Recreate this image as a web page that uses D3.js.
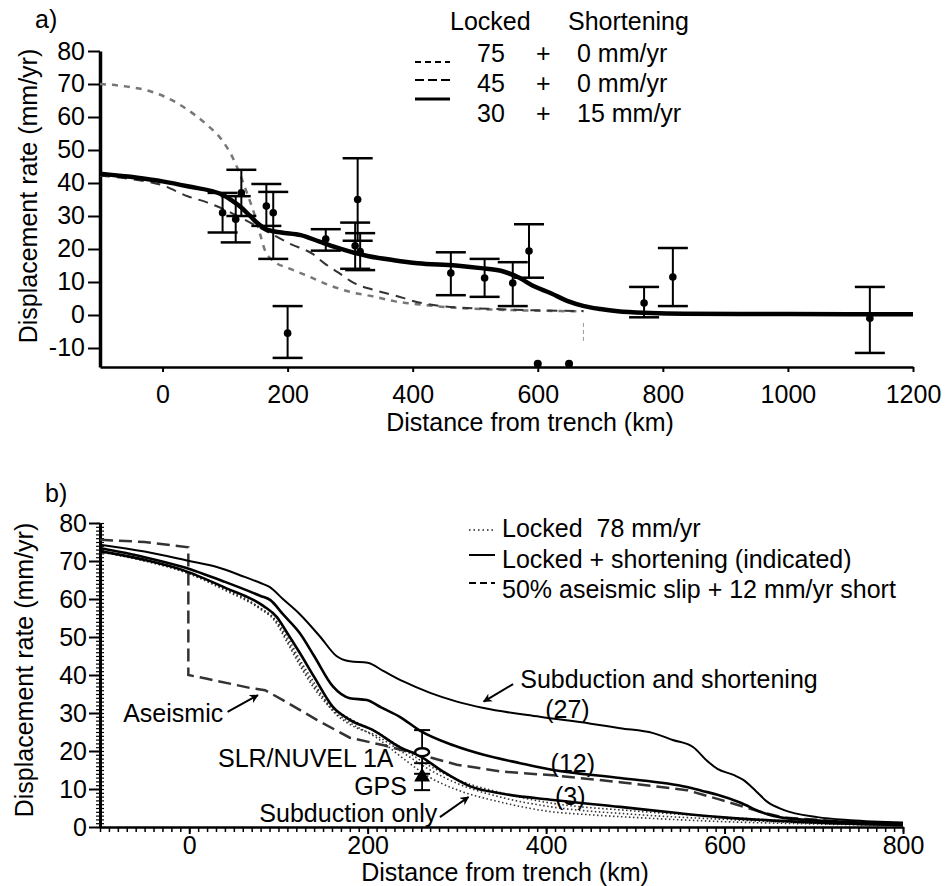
<!DOCTYPE html>
<html>
<head>
<meta charset="utf-8">
<script src="https://cdn.jsdelivr.net/npm/d3@7"></script>
<style>
  body { margin: 0; background: #fff; }
  svg text { font-family: "Liberation Sans", Arial, Helvetica, sans-serif; font-size: 25px; fill: #000; white-space: pre; }
  .axis path, .axis line { stroke: #000; }
  .axis text { font-family: "Liberation Sans", Arial, Helvetica, sans-serif; font-size: 25px; }
</style>
</head>
<body>
<script>
// ---------- panel a data ----------
var aXTicks = [0, 200, 400, 600, 800, 1000, 1200];
var aYTicks = [-10, 0, 10, 20, 30, 40, 50, 60, 70, 80];

// model curves [km, mm/yr]
var locked75 = [[-100,70],[-60,69.3],[-20,67.8],[10,65.6],[40,62.2],[70,57.8],[95,53],[110,48.5],[122,43.5],[135,37],[147,30.5],[156,24.5],[164,19.5],[180,16],[200,14.3],[230,12],[260,9.5],[300,7],[340,5.5],[370,4.2],[420,3],[460,2.3],[520,1.7],[600,1.3],[673,1.1]];
var locked45 = [[-100,42.2],[-50,41.2],[0,39.3],[40,36],[70,34.2],[95,32.3],[130,29],[170,25],[205,21.5],[240,18.5],[260,15.5],[280,13],[305,9.8],[340,7.5],[370,6],[410,3.8],[450,2.6],[520,1.9],[600,1.4],[673,1.2]];
var locked30short15 = [[-100,42.8],[-40,41.6],[0,40.5],[40,39],[95,36.5],[110,34.8],[125,32.7],[140,30],[152,27.8],[168,25.8],[190,25],[221,24.2],[250,22.3],[274,20.7],[300,19.2],[328,17.9],[370,16.6],[408,15.7],[469,15],[509,14.2],[541,13.4],[568,11.5],[594,8.7],[621,6.6],[648,4.2],[674,2.7],[700,1.8],[728,1.1],[780,0.6],[834,0.4],[1000,0.3],[1200,0.2]];

// observations with error bars
var obsKm   = [96, 117, 126, 166, 177, 200, 261, 308, 312, 316, 461, 515, 560, 586, 770, 816, 1131];
var obsRate = [31, 29, 37, 33, 31, -5.5, 23, 21, 35, 19.2, 12.7, 11.2, 9.7, 19.4, 3.6, 11.5, -1];
var obsLow  = [25, 22, 30, 27, 17, -13, 19.5, 14, 22.5, 13.6, 6, 5.5, 2.7, 11.3, -0.7, 2.7, -11.5];
var obsHigh = [37, 36, 44, 39.7, 37.3, 2.7, 26, 28, 47.5, 24.8, 19, 17, 16, 27.5, 8.5, 20.3, 8.5];

// off-scale points sitting on the axis
var offKm = [600, 650];
var offRate = [-14.8, -14.8];

// faint vertical guide
var guideKm = [673, 673];
var guideRate = [-2.4, -8.6];

// ---------- panel b data ----------
var bXTicks = [0, 200, 400, 600, 800];
var bYTicks = [0, 10, 20, 30, 40, 50, 60, 70, 80];

var short27 = [[-100,74.3],[-50,72.5],[0,70],[31,68.4],[60,66],[80,64.2],[90,63.2],[105,60],[124,56],[147,50],[165,45],[180,43.6],[200,43.2],[218,41],[240,38.3],[270,35.3],[300,33],[330,31.3],[393,29],[450,27.2],[483,26],[520,24.7],[542,22.9],[565,21],[580,17.5],[592,15.3],[610,13.7],[621,12.4],[635,9.5],[648,6.6],[666,4.5],[704,2.6],[741,1.8],[800,1.2]];
var short12 = [[-100,73.4],[-50,71],[-7,68.4],[40,64.5],[80,60.8],[91,59.7],[105,56],[124,51],[140,45],[161,37],[180,33.9],[199,33.4],[215,31.5],[236,29],[259,25.3],[296,21.5],[330,19],[371,16.8],[408,15],[483,12.9],[558,10.5],[575,9.5],[592,8.5],[618,6.4],[640,4],[666,2.4],[741,1.3],[800,0.8]];
var short3 = [[-100,72.6],[-50,70.3],[-7,67.6],[40,63],[83,58.2],[98,55.3],[110,51],[124,45.8],[140,39.5],[161,31.6],[180,28.2],[206,25.5],[236,21],[259,18.6],[285,14.5],[315,10.7],[350,8.8],[408,7.1],[483,5.3],[550,3.6],[595,2.6],[700,1.2],[800,0.5]];
var locked78 = [[-100,72.4],[-50,70],[0,66.6],[40,62.3],[80,57.3],[95,54.5],[110,48.5],[124,42.5],[140,36.5],[160,31],[180,27.5],[210,23.5],[240,18],[270,13],[300,9.8],[350,6.5],[400,4.2],[450,3.2],[500,2.5],[600,1.4],[700,0.8],[800,0.4]];
var locked78b = [[-100,72.5],[-50,70.1],[0,66.8],[40,62.6],[80,57.6],[95,55],[110,50],[124,44],[140,38],[161,30.5],[180,27],[210,24],[240,19.5],[270,15],[300,11.5],[350,7.8],[400,5.5],[500,3.3],[600,2],[700,1],[800,0.5]];
var locked78c = [[-100,72.5],[0,66.7],[80,57.5],[95,54.8],[110,49.2],[124,43.2],[140,37.2],[160,31.5],[180,28.5],[210,25],[240,20.5],[270,16],[300,12.5],[350,9],[400,6.5],[500,4.2],[600,2.6],[700,1.3],[800,0.6]];
var aseismic = [[-100,75.6],[-50,75],[-1,73.6],[-1,40],[20,39],[68,36.6],[85,36],[105,33.4],[143,28.2],[180,23.5],[218,21.5],[259,19],[300,16.4],[350,14.6],[408,13.6],[483,11.8],[558,9.7],[595,7.2],[640,4],[666,2.5],[740,1.3],[800,0.8]];

// SLR/NUVEL 1A and GPS estimates
var siteKm = [261, 261];
var siteRate = [19.7, 13.2];
var siteLow = [14, 9.7];
var siteHigh = [25.5, 16.8];

// annotations (anchor in data units)
var noteText = ["Aseismic", "SLR/NUVEL 1A", "GPS", "Subduction only", "Subduction and shortening", "(27)", "(12)", "(3)"];
var noteKm = [-74, 229, 244, 278, 371, 399, 405, 410];
var noteRate = [27.6, 15.8, 8.4, 1.3, 36.6, 28.7, 14.5, 5.8];
var noteAnchor = ["start", "end", "end", "end", "start", "start", "start", "start"];

var arrowFrom = [[43, 30.3], [281, 2.6], [363, 37.6]];
var arrowTo = [[77, 34.7], [313, 7.9], [330, 33]];

// legend texts
var legendAHead = ["Locked", "Shortening"];
var legendALocked = ["75", "45", "30"];
var legendAShort = ["0 mm/yr", "0 mm/yr", "15 mm/yr"];
var legendB = ["Locked  78 mm/yr", "Locked + shortening (indicated)", "50% aseismic slip + 12 mm/yr short"];

var svg = d3.select("body")
  .append("svg")
  .attr("width", 950)
  .attr("height", 886);

svg.append("defs").append("marker")
  .attr("id", "arrow")
  .attr("viewBox", "0 0 10 10")
  .attr("refX", 9)
  .attr("refY", 5)
  .attr("markerWidth", 9)
  .attr("markerHeight", 9)
  .attr("markerUnits", "userSpaceOnUse")
  .attr("orient", "auto")
  .append("path")
  .attr("d", "M0,0 L10,5 L0,10 L3,5 z")
  .attr("fill", "#000");

function styleAxis(g, domainWidth) {
  g.attr("font-family", null).attr("font-size", null);
  g.select(".domain").attr("stroke-width", domainWidth);
  g.selectAll(".tick line").attr("stroke-width", 2);
}

// ======================= panel a =======================
var xA = d3.scaleLinear().domain([-100, 1200]).range([100, 913]);
var yA = d3.scaleLinear().domain([-15.76, 80]).range([367, 51]);

var lineA = d3.line()
  .x(d => xA(d[0]))
  .y(d => yA(d[1]))
  .curve(d3.curveMonotoneX);

var panelA = svg.append("g");

panelA.append("text").attr("x", 35).attr("y", 28).text("a)");

panelA.append("g")
  .attr("class", "axis")
  .attr("transform", "translate(0,367)")
  .call(d3.axisBottom(xA).tickValues(aXTicks).tickSize(5).tickSizeOuter(0).tickPadding(13).tickFormat(d => String(d)))
  .call(styleAxis, 2.5);

panelA.append("g")
  .attr("class", "axis")
  .attr("transform", "translate(100,0)")
  .call(d3.axisLeft(yA).tickValues(aYTicks).tickSize(12).tickSizeOuter(0).tickPadding(3).tickFormat(d => String(d)))
  .call(styleAxis, 3.5);

panelA.append("text")
  .attr("x", 530).attr("y", 431)
  .attr("text-anchor", "middle")
  .text("Distance from trench (km)");

panelA.append("text")
  .attr("transform", "translate(37,196) rotate(-90)")
  .attr("text-anchor", "middle")
  .text("Displacement rate (mm/yr)");

// model curves
panelA.append("path")
  .attr("d", lineA(locked75))
  .attr("fill", "none")
  .attr("stroke", "#777")
  .attr("stroke-width", 2.5)
  .attr("stroke-dasharray", "6,6");

panelA.append("path")
  .attr("d", lineA(locked45))
  .attr("fill", "none")
  .attr("stroke", "#333")
  .attr("stroke-width", 2)
  .attr("stroke-dasharray", "10,7");

panelA.append("path")
  .attr("d", lineA(locked30short15))
  .attr("fill", "none")
  .attr("stroke", "#000")
  .attr("stroke-width", 4.5);

panelA.append("line")
  .attr("x1", xA(guideKm[0])).attr("x2", xA(guideKm[1]))
  .attr("y1", yA(guideRate[0])).attr("y2", yA(guideRate[1]))
  .attr("stroke", "#999")
  .attr("stroke-width", 1)
  .attr("stroke-dasharray", "4,3");

// error bars
var capA = 15;
var bars = panelA.append("g").attr("stroke", "#000");
obsKm.forEach(function(km, i) {
  var x = xA(km);
  bars.append("line")
    .attr("x1", x).attr("x2", x)
    .attr("y1", yA(obsLow[i])).attr("y2", yA(obsHigh[i]))
    .attr("stroke-width", 2);
  [obsLow[i], obsHigh[i]].forEach(function(v) {
    bars.append("line")
      .attr("x1", x - capA).attr("x2", x + capA)
      .attr("y1", yA(v)).attr("y2", yA(v))
      .attr("stroke-width", 2.5);
  });
});

panelA.append("g")
  .selectAll("circle")
  .data(obsKm)
  .join("circle")
  .attr("cx", d => xA(d))
  .attr("cy", (d, i) => yA(obsRate[i]))
  .attr("r", 3.8)
  .attr("fill", "#000");

panelA.append("g")
  .selectAll("circle")
  .data(offKm)
  .join("circle")
  .attr("cx", d => xA(d))
  .attr("cy", (d, i) => yA(offRate[i]))
  .attr("r", 4)
  .attr("fill", "#000");

// legend a
panelA.append("text").attr("x", 450).attr("y", 30).text(legendAHead[0]);
panelA.append("text").attr("x", 568).attr("y", 30).text(legendAHead[1]);
var legendAStyle = [
  { dash: "6,4", width: 2, y: 62 },
  { dash: "9,4", width: 2, y: 80 },
  { dash: null, width: 3, y: 99 }
];
legendALocked.forEach(function(t, i) {
  var baseY = 62 + i * 30;
  panelA.append("text").attr("x", 477).attr("y", baseY).text(t);
  panelA.append("text").attr("x", 536).attr("y", baseY).text("+");
  panelA.append("text").attr("x", 577).attr("y", baseY).text(legendAShort[i]);
  panelA.append("line")
    .attr("x1", 415).attr("x2", 450)
    .attr("y1", legendAStyle[i].y).attr("y2", legendAStyle[i].y)
    .attr("stroke", "#000")
    .attr("stroke-width", legendAStyle[i].width)
    .attr("stroke-dasharray", legendAStyle[i].dash);
});

// ======================= panel b =======================
var xB = d3.scaleLinear().domain([-100, 800]).range([100, 903]);
var yB = d3.scaleLinear().domain([0, 80]).range([827, 523]);

var lineB = d3.line()
  .x(d => xB(d[0]))
  .y(d => yB(d[1]))
  .curve(d3.curveMonotoneX);

var lineBStraight = d3.line()
  .x(d => xB(d[0]))
  .y(d => yB(d[1]));

var panelB = svg.append("g");

panelB.append("text").attr("x", 45).attr("y", 502).text("b)");

// minor ticks
panelB.append("g")
  .attr("class", "axis")
  .attr("transform", "translate(0,827)")
  .call(d3.axisBottom(xB).tickValues(d3.range(-100, 801, 10)).tickSize(5).tickSizeOuter(0).tickFormat(""))
  .call(g => g.select(".domain").remove())
  .call(g => g.selectAll(".tick line").attr("stroke-width", 1.5));

panelB.append("g")
  .attr("class", "axis")
  .attr("transform", "translate(96,0)")
  .call(d3.axisRight(yB).tickValues(d3.range(0, 80.5, 1)).tickSize(8).tickSizeOuter(0).tickFormat(""))
  .call(g => g.select(".domain").remove())
  .call(g => g.selectAll(".tick line").attr("stroke-width", 1.2));

panelB.append("g")
  .attr("class", "axis")
  .attr("transform", "translate(0,827)")
  .call(d3.axisBottom(xB).tickValues(bXTicks).tickSize(7).tickSizeOuter(0).tickPadding(2).tickFormat(d => String(d)))
  .call(styleAxis, 2.5);

panelB.append("g")
  .attr("class", "axis")
  .attr("transform", "translate(100,0)")
  .call(d3.axisLeft(yB).tickValues(bYTicks).tickSize(11).tickSizeOuter(0).tickPadding(2).tickFormat(d => String(d)))
  .call(styleAxis, 3);

panelB.append("text")
  .attr("x", 505).attr("y", 881)
  .attr("text-anchor", "middle")
  .text("Distance from trench (km)");

panelB.append("text")
  .attr("transform", "translate(33,670) rotate(-90)")
  .attr("text-anchor", "middle")
  .text("Displacement rate (mm/yr)");

// curves
[locked78, locked78b, locked78c].forEach(function(c) {
  panelB.append("path")
    .attr("d", lineB(c))
    .attr("fill", "none")
    .attr("stroke", "#333")
    .attr("stroke-width", 1.6)
    .attr("stroke-dasharray", "1.5,2.5");
});

panelB.append("path")
  .attr("d", lineBStraight(aseismic))
  .attr("fill", "none")
  .attr("stroke", "#333")
  .attr("stroke-width", 2.5)
  .attr("stroke-dasharray", "13,6");

[short27, short12, short3].forEach(function(c, i) {
  panelB.append("path")
    .attr("d", lineB(c))
    .attr("fill", "none")
    .attr("stroke", "#000")
    .attr("stroke-width", i == 0 ? 2 : 2.6);
});

// site estimates
var capB = 8;
siteKm.forEach(function(km, i) {
  var x = xB(km);
  panelB.append("line")
    .attr("x1", x).attr("x2", x)
    .attr("y1", yB(siteLow[i])).attr("y2", yB(siteHigh[i]))
    .attr("stroke", "#000").attr("stroke-width", 1.8);
  [siteLow[i], siteHigh[i]].forEach(function(v) {
    panelB.append("line")
      .attr("x1", x - capB).attr("x2", x + capB)
      .attr("y1", yB(v)).attr("y2", yB(v))
      .attr("stroke", "#000").attr("stroke-width", 2);
  });
});

panelB.append("ellipse")
  .attr("cx", xB(siteKm[0])).attr("cy", yB(siteRate[0]))
  .attr("rx", 7).attr("ry", 4)
  .attr("fill", "#fff").attr("stroke", "#000").attr("stroke-width", 2.5);

panelB.append("path")
  .attr("transform", "translate(" + xB(siteKm[1]) + "," + yB(siteRate[1]) + ")")
  .attr("d", d3.symbol(d3.symbolTriangle, 110)())
  .attr("fill", "#000");

// annotations
noteText.forEach(function(t, i) {
  panelB.append("text")
    .attr("x", xB(noteKm[i]))
    .attr("y", yB(noteRate[i]))
    .attr("text-anchor", noteAnchor[i])
    .text(t);
});

arrowFrom.forEach(function(p, i) {
  panelB.append("line")
    .attr("x1", xB(p[0])).attr("y1", yB(p[1]))
    .attr("x2", xB(arrowTo[i][0])).attr("y2", yB(arrowTo[i][1]))
    .attr("stroke", "#000")
    .attr("stroke-width", 2)
    .attr("marker-end", "url(#arrow)");
});

// legend b
var legendBStyle = [
  { dash: "1.5,3", color: "#555", y: 530 },
  { dash: null, color: "#000", y: 555 },
  { dash: "7,4", color: "#000", y: 583 }
];
legendB.forEach(function(t, i) {
  panelB.append("text").attr("x", 502).attr("y", 537 + i * 30.5).text(t);
  panelB.append("line")
    .attr("x1", 469).attr("x2", 495)
    .attr("y1", legendBStyle[i].y).attr("y2", legendBStyle[i].y)
    .attr("stroke", legendBStyle[i].color)
    .attr("stroke-width", 2)
    .attr("stroke-dasharray", legendBStyle[i].dash);
});
</script>
</body>
</html>
